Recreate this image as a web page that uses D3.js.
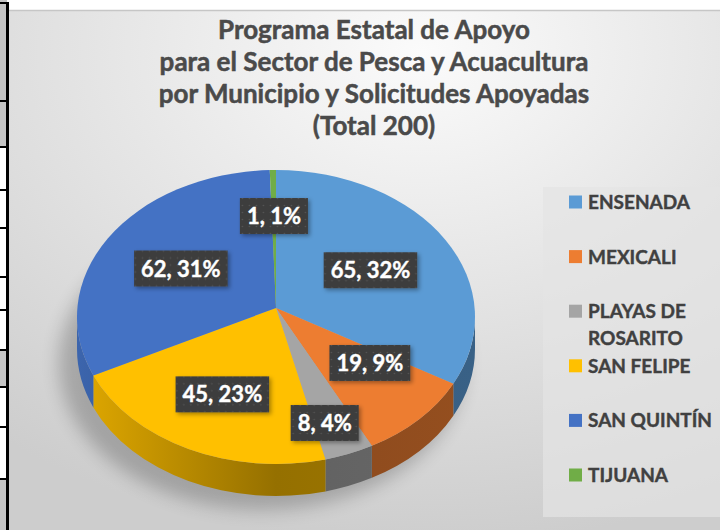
<!DOCTYPE html>
<html>
<head>
<meta charset="utf-8">
<script src="https://cdn.jsdelivr.net/npm/d3@7"></script>
<style>
  body { margin: 0; background: #fff; }
  svg { display: block; font-family: Lato, "Open Sans", sans-serif; }
</style>
</head>
<body>
<div id="chart"></div>
<script>
// datos
var municipios = ["ENSENADA", "MEXICALI", "PLAYAS DE ROSARITO", "SAN FELIPE", "SAN QUINTÍN", "TIJUANA"];
var solicitudes = [65, 19, 8, 45, 62, 1];
var porcentajes = [32, 9, 4, 23, 31, 1];
var titulo = ["Programa Estatal de Apoyo", "para el Sector de Pesca y Acuacultura",
              "por Municipio y Solicitudes Apoyadas", "(Total 200)"];

var svgWidth = 720;
var svgHeight = 530;

// pie geometry (tilted 3D pie)
var cx = 276, cy = 317, rx = 199, ry = 147, depth = 32;
var apexY = cy - 9;   // slight perspective: slices meet a bit above the ellipse centre

var svg = d3.select("#chart")
    .append("svg")
    .attr("width", svgWidth)
    .attr("height", svgHeight);

var defs = svg.append("defs");

var bg = defs.append("radialGradient")
    .attr("id", "bg")
    .attr("cx", "58%").attr("cy", "8%").attr("r", "95%");
bg.append("stop").attr("offset", "0%").attr("stop-color", "#fbfbfb");
bg.append("stop").attr("offset", "100%").attr("stop-color", "#cdcdcd");

defs.append("filter").attr("id", "blur")
    .attr("x", "-30%").attr("y", "-30%").attr("width", "160%").attr("height", "160%")
  .append("feGaussianBlur").attr("stdDeviation", 9);

defs.append("filter").attr("id", "boxshadow")
    .attr("x", "-20%").attr("y", "-30%").attr("width", "150%").attr("height", "170%")
  .append("feDropShadow")
    .attr("dx", 2).attr("dy", 2).attr("stdDeviation", 2)
    .attr("flood-color", "#000").attr("flood-opacity", 0.35);

var dots = defs.append("pattern")
    .attr("id", "dots")
    .attr("width", 7).attr("height", 7)
    .attr("patternUnits", "userSpaceOnUse");
dots.append("rect").attr("width", 7).attr("height", 7).attr("fill", "#3d3d3d");
dots.append("circle").attr("cx", 3.5).attr("cy", 3.5).attr("r", 0.8).attr("fill", "#555");

// left table edge (part of the screenshot)
var edge = svg.append("g");
var edgeCells = [[0, 101, "#c4c4c4"], [101, 147, "#c4c4c4"], [147, 350, "#fff"],
                 [350, 387, "#c4c4c4"], [387, 479, "#fff"], [479, 530, "#c4c4c4"]];
edge.selectAll("rect.cell").data(edgeCells).enter().append("rect")
    .attr("x", 0).attr("y", d => d[0]).attr("width", 7).attr("height", d => d[1] - d[0])
    .attr("fill", d => d[2]);
edge.selectAll("rect.line").data([3, 101, 147, 190, 228, 277, 310, 350, 387, 427, 479]).enter().append("rect")
    .attr("x", 0).attr("y", d => d - 1).attr("width", 8).attr("height", 2).attr("fill", "#000");
edge.append("rect").attr("x", 6).attr("y", 2).attr("width", 3).attr("height", 528).attr("fill", "#000");

// chart area
svg.append("rect")
    .attr("x", 9).attr("y", 10).attr("width", 711).attr("height", 520)
    .attr("fill", "url(#bg)");
svg.append("line")
    .attr("x1", 9).attr("x2", 720).attr("y1", 10.5).attr("y2", 10.5)
    .attr("stroke", "#c6c6c6").attr("stroke-width", 1.5);

// title
svg.append("text")
    .attr("text-anchor", "middle")
    .attr("font-weight", "bold")
    .attr("font-size", 26)
    .attr("fill", "#4a4a4a")
    .attr("stroke", "#4a4a4a")
    .attr("stroke-width", 0.5)
  .selectAll("tspan")
  .data(titulo)
  .enter().append("tspan")
    .attr("x", 374)
    .attr("y", (d, i) => 39 + i * 32)
    .text(d => d);

var color = d3.scaleOrdinal()
    .domain(municipios)
    .range(["#5B9BD5", "#ED7D31", "#A5A5A5", "#FFC000", "#4472C4", "#70AD47"]);

var data = municipios.map((m, i) => ({ name: m, value: solicitudes[i], pct: porcentajes[i] }));

var pie = d3.pie()
    .sort(null)
    .value(d => d.value);
var arcs = pie(data);

function pt(a, f, dy) {
    f = f === undefined ? 1 : f;
    dy = dy || 0;
    // interpolate between apex and the rim so inner points follow the perspective
    var ry0 = apexY + (cy - apexY) * f;
    return [cx + rx * f * Math.sin(a), ry0 - ry * f * Math.cos(a) + dy];
}

// shadow
svg.append("ellipse")
    .attr("cx", cx - 14).attr("cy", cy + depth + 14)
    .attr("rx", rx + 4).attr("ry", ry)
    .attr("fill", "#000").attr("opacity", 0.22)
    .attr("filter", "url(#blur)");

var chartGroup = svg.append("g");

// side walls (front half only)
arcs.forEach(function(d, i) {
    var b0 = Math.max(d.startAngle, Math.PI / 2);
    var b1 = Math.min(d.endAngle, 3 * Math.PI / 2);
    if (b1 <= b0) return;
    var c = d3.color(color(d.data.name));
    var gid = "side" + i;
    var g = defs.append("linearGradient")
        .attr("id", gid)
        .attr("gradientUnits", "userSpaceOnUse")
        .attr("x1", cx - rx).attr("x2", cx + rx).attr("y1", 0).attr("y2", 0);
    g.append("stop").attr("offset", "0%").attr("stop-color", c.darker(0.35));
    g.append("stop").attr("offset", "50%").attr("stop-color", c.darker(1.5));
    g.append("stop").attr("offset", "100%").attr("stop-color", c.darker(1.3));
    var p0 = pt(b0), p1 = pt(b1), q0 = pt(b0, 1, depth), q1 = pt(b1, 1, depth);
    var path = "M" + p0 + " A" + rx + "," + ry + " 0 0 1 " + p1 +
        " L" + q1 + " A" + rx + "," + ry + " 0 0 0 " + q0 + " Z";
    chartGroup.append("path")
        .attr("d", path)
        .attr("fill", "url(#" + gid + ")");
});

// top faces
chartGroup.selectAll("path.top")
    .data(arcs)
    .enter().append("path")
    .attr("class", "top")
    .attr("d", function(d) {
        var p0 = pt(d.startAngle), p1 = pt(d.endAngle);
        var large = (d.endAngle - d.startAngle) > Math.PI ? 1 : 0;
        return "M" + cx + "," + apexY + " L" + p0 + " A" + rx + "," + ry + " 0 " + large + " 1 " + p1 + " Z";
    })
    .attr("fill", d => color(d.data.name));

// data labels at slice centroids, then pushed apart when they overlap
var labels = arcs.map(function(d) {
    var a = d.endAngle - d.startAngle;
    var f = 4 * Math.sin(a / 2) / (3 * a);
    var p = pt((d.startAngle + d.endAngle) / 2, f);
    return { x: p[0], y: p[1], text: d.data.value + ", " + d.data.pct + "%" };
});

var labelGroup = svg.append("g");
var lbl = labelGroup.selectAll("g")
    .data(labels)
    .enter().append("g");
lbl.append("rect").attr("fill", "url(#dots)").attr("filter", "url(#boxshadow)");
lbl.append("text")
    .attr("text-anchor", "middle")
    .attr("font-weight", "bold")
    .attr("font-size", 22)
    .attr("fill", "#fff")
    .attr("stroke", "#fff")
    .attr("stroke-width", 0.4)
    .text(d => d.text);
lbl.each(function(d) {
    d.w = d3.select(this).select("text").node().getComputedTextLength() + 14;
    d.h = 36;
});

for (var iter = 0; iter < 50; iter++) {
    var moved = false;
    for (var i = 0; i < labels.length; i++) {
        for (var j = i + 1; j < labels.length; j++) {
            var A = labels[i], B = labels[j];
            var overlapX = Math.abs(A.x - B.x) < (A.w + B.w) / 2;
            var minGap = A.h + 24;
            if (overlapX && Math.abs(A.y - B.y) < minGap) {
                var shift = (minGap - Math.abs(A.y - B.y)) / 2;
                if (A.y <= B.y) { A.y -= shift; B.y += shift; }
                else { A.y += shift; B.y -= shift; }
                moved = true;
            }
        }
    }
    if (!moved) break;
}

lbl.attr("transform", d => `translate(${d.x},${d.y})`);
lbl.select("rect")
    .attr("x", d => -d.w / 2).attr("y", d => -d.h / 2)
    .attr("width", d => d.w).attr("height", d => d.h);
lbl.select("text").attr("y", 8);

// legend
svg.append("rect")
    .attr("x", 543).attr("y", 187).attr("width", 177).attr("height", 330)
    .attr("fill", "#e4e4e4").attr("opacity", 0.7);

var legendY = d3.scalePoint()
    .domain(municipios)
    .range([202, 475]);

var legend = svg.append("g").selectAll("g")
    .data(municipios)
    .enter().append("g")
    .attr("transform", d => `translate(569,${legendY(d)})`);

legend.append("rect")
    .attr("x", 0).attr("y", -6.5).attr("width", 13).attr("height", 13)
    .attr("fill", d => color(d));

legend.append("text")
    .attr("x", 19)
    .attr("y", 7)
    .attr("font-weight", "bold")
    .attr("font-size", 19)
    .attr("fill", "#404040")
    .attr("stroke", "#404040")
    .attr("stroke-width", 0.4)
    .each(function(d) {
        var t = d3.select(this);
        var words = d.split(" ");
        var line = [];
        var tspan = t.append("tspan").attr("x", 19).attr("dy", 0);
        words.forEach(function(w) {
            line.push(w);
            tspan.text(line.join(" "));
            if (tspan.node().getComputedTextLength() > 132 && line.length > 1) {
                line.pop();
                tspan.text(line.join(" "));
                line = [w];
                tspan = t.append("tspan").attr("x", 19).attr("dy", 27).text(w);
            }
        });
    });
</script>
</body>
</html>
